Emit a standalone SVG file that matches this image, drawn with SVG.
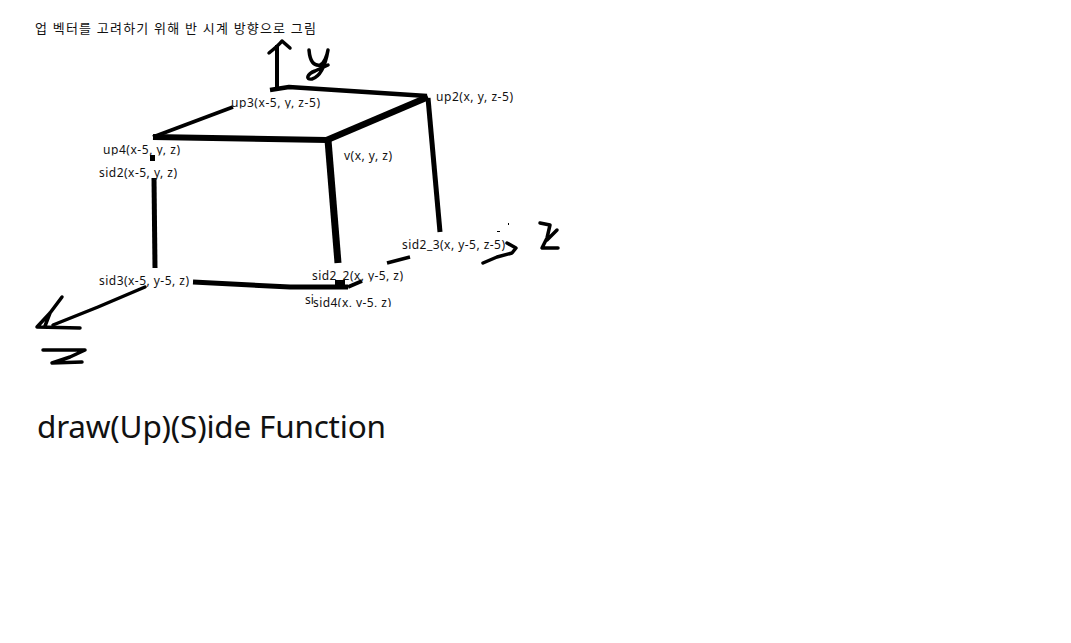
<svg xmlns="http://www.w3.org/2000/svg" width="1071" height="643" viewBox="0 0 1071 643">
<style>
text{font-family:"Noto Sans","Noto Sans CJK KR",sans-serif;font-size:12px;fill:#111}
.s{fill:none;stroke:#000;stroke-linecap:butt;stroke-linejoin:round}
.h{fill:none;stroke:#000;stroke-width:3.5;stroke-linecap:round;stroke-linejoin:round}
</style>
<defs>
<clipPath id="c1"><rect x="225" y="90" width="100" height="18.5"/></clipPath>
<clipPath id="c2"><rect x="95" y="140" width="90" height="15.5"/></clipPath>
<clipPath id="c3"><rect x="300" y="268" width="110" height="13.5"/></clipPath>
<clipPath id="c4"><rect x="300" y="293" width="100" height="14"/></clipPath>
</defs>
<rect width="1071" height="643" fill="#fff"/>
<g id="connectors">
<path class="s" stroke-width="4.5" d="M270 90L289 87L427 96"/>
<path class="s" stroke-width="4" d="M277 89L277 45"/>
<path class="h" stroke-width="4" d="M269 53C274 49 279 45 282 41L290 48"/>
<path class="s" stroke-width="4" d="M153 137L233 107"/>
<path class="s" stroke-width="6" d="M153 137L327 140"/>
<path class="s" stroke-width="6.5" d="M327 140L428 97"/>
<path class="s" stroke-width="7" d="M328 140L338 263"/>
<path class="s" stroke-width="5" d="M428 98L440 232"/>
<path class="s" stroke-width="5" d="M154 178L155 268"/>
<rect x="150" y="155" width="5" height="6"/>
<path class="s" stroke-width="5" d="M193 282L290 287L348 287"/>
<path class="s" stroke-width="4" d="M348 287L362 281"/>
<rect x="335" y="280" width="10" height="7"/>
<path class="s" stroke-width="3.5" d="M387 263L410 257"/>
<path class="h" stroke-width="2.8" d="M145 287L98 307L53 325"/>
<path class="h" stroke-width="4" d="M62 297L50 313L37 327L80 328M50 313L45 326"/>
<path class="h" d="M483 263L497 257L512 253L516 248L507 243"/>
<rect x="497" y="231" width="3" height="1"/>
<rect x="508" y="223" width="1" height="2"/>
</g>
<g id="axis-y"><path class="h" stroke-width="4.5" d="M309 50C310 62 314 66 320 65C324 64 327 56 328 50C326 62 322 76 312 79C305 80 307 74 315 71L328 65"/></g>
<g id="axis-z"><path class="h" stroke-width="4" d="M43 350L85 350L70 357L52 363L82 362"/></g>
<g id="axis-x"><path class="h" stroke-width="4.5" d="M540 223L550 225L547 238L542 248L558 248M557 230L547 240"/></g>
<g id="title"><text x="35" y="33" style="font-size:13px" textLength="281" lengthAdjust="spacing">업 벡터를 고려하기 위해 반 시계 방향으로 그림</text></g>
<g id="up3"><text x="231" y="107" clip-path="url(#c1)" textLength="89">up3(x-5, y, z-5)</text></g>
<g id="up2"><text x="436" y="101" textLength="77">up2(x, y, z-5)</text></g>
<g id="up4"><text x="103" y="154" clip-path="url(#c2)" textLength="77">up4(x-5, y, z)</text></g>
<g id="v"><text x="344" y="160" textLength="48">v(x, y, z)</text></g>
<g id="sid2"><text x="99" y="177" textLength="78">sid2(x-5, y, z)</text></g>
<g id="sid2_3"><text x="402" y="249" textLength="103">sid2_3(x, y-5, z-5)</text></g>
<g id="sid3"><text x="99" y="285" textLength="90">sid3(x-5, y-5, z)</text></g>
<g id="sid2_2"><text x="312" y="280" clip-path="url(#c3)" textLength="91">sid2_2(x, y-5, z)</text></g>
<g id="si"><text x="305" y="304">si</text></g>
<g id="sid4"><text x="313" y="307" clip-path="url(#c4)" textLength="78">sid4(x, y-5, z)</text></g>
<g id="caption"><text x="37" y="438" style="font-size:31.5px" textLength="349">draw(Up)(S)ide Function</text></g>
</svg>
